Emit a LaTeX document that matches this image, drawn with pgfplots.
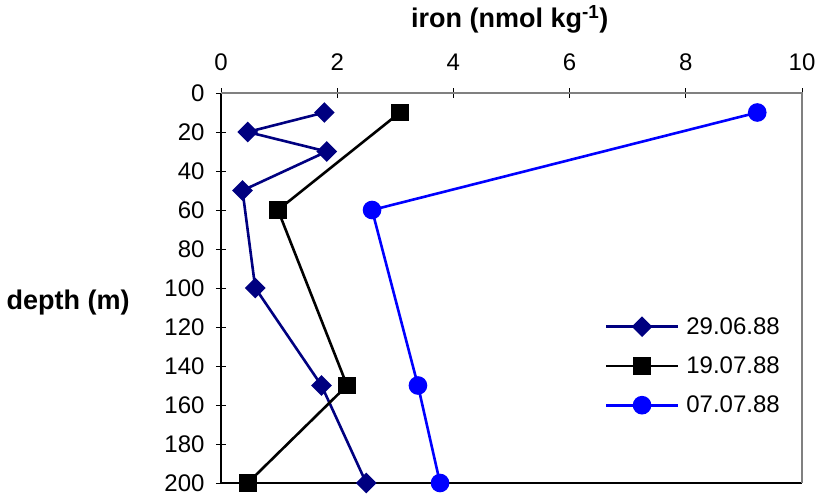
\documentclass[border=0pt]{standalone}
\usepackage{pgfplots}
\pgfplotsset{compat=1.18}
\usepackage{fontspec}
\setmainfont{Liberation Sans}
\definecolor{navy}{RGB}{0,0,128}
\definecolor{frame}{RGB}{128,128,128}
\begin{document}
\begin{tikzpicture}[x=1pt,y=1pt]
\path[use as bounding box] (0,0) rectangle (819,498);
\begin{axis}[
    at={(221pt,15pt)}, anchor=south west,
    scale only axis, width=581pt, height=390pt,
    xmin=0, xmax=10, ymin=0, ymax=200,
    y dir=reverse,
    xtick={0,2,...,10}, ytick={0,20,...,200},
    xtick pos=upper, ytick pos=left,
    xticklabel pos=upper,
    tick align=center, major tick length=10pt,
    tick style={black, line width=0.9pt},
    axis line style={draw=none},
    ticklabel style={font=\fontsize{24}{26}\selectfont},
    /pgf/number format/assume math mode=true,
    xticklabel style={yshift=14pt},
    yticklabel style={xshift=-8pt},
    xlabel={\textbf{iron (nmol kg\textsuperscript{-1})}},
    xlabel style={font=\fontsize{27}{29}\selectfont, at={(axis description cs:0.497,1)}, anchor=south, yshift=56pt},
    ylabel={\textbf{depth (m)}},
    ylabel style={font=\fontsize{27}{29}\selectfont, rotate=-90, at={(axis description cs:-0.263,0.464)}, anchor=center},
    legend style={draw=none, fill=none, at={(axis description cs:0.655,0.435)}, anchor=north west,
        font=\fontsize{24}{26}\selectfont, row sep=17pt,
        nodes={inner xsep=7pt}},
    legend cell align=left,
    legend image code/.code={
        \draw[#1] (0pt,0pt) -- (72pt,0pt);
        \draw[#1, mark repeat=2, mark phase=2] plot coordinates {(0pt,0pt) (36pt,0pt) (72pt,0pt)};
    },
    clip=false,
]
\draw[black, line width=1.2pt] (rel axis cs:0,1) -- (rel axis cs:0,0) -- (rel axis cs:1,0);
\draw[frame, line width=1.8pt] (rel axis cs:1,0) -- (rel axis cs:1,1) -- (rel axis cs:0,1);
\addplot[navy, line width=2.6pt, mark=square*, mark size=6pt, mark options={solid, fill=navy, rotate=45}]
    coordinates {(1.78,10) (0.46,20) (1.82,30) (0.37,50) (0.59,100) (1.73,150) (2.5,200)};
\addlegendentry{29.06.88}
\addplot[black, line width=2.6pt, mark=square*, mark size=7.5pt, mark options={solid, fill=black}]
    coordinates {(3.08,10) (0.98,60) (2.17,150) (0.46,200)};
\addlegendentry{19.07.88}
\addplot[blue, line width=2.6pt, mark=*, mark size=8pt, mark options={solid, fill=blue}]
    coordinates {(9.23,10) (2.6,60) (3.39,150) (3.77,200)};
\addlegendentry{07.07.88}
\end{axis}
\end{tikzpicture}
\end{document}
